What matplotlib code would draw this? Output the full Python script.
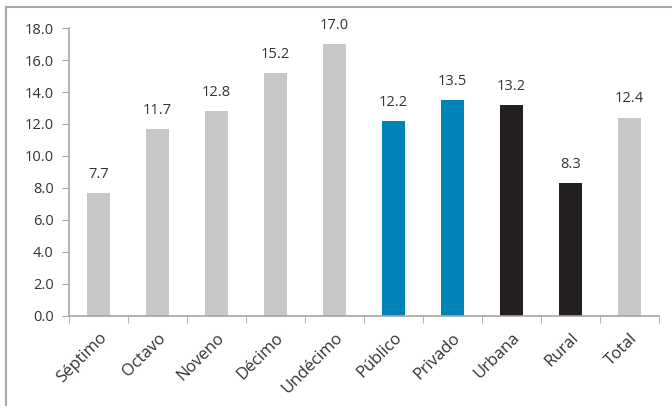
import matplotlib
matplotlib.use("Agg")
import matplotlib.pyplot as plt
from matplotlib.lines import Line2D

# data
categories = ["Séptimo", "Octavo", "Noveno", "Décimo", "Undécimo",
              "Público", "Privado", "Urbana", "Rural", "Total"]
values = [7.7, 11.7, 12.8, 15.2, 17.0, 12.2, 13.5, 13.2, 8.3, 12.4]
groups = ["grado"] * 5 + ["sector"] * 2 + ["zona"] * 2 + ["grado"]

GROUP_COLORS = {"grado": "#c6c7c9", "sector": "#0083b7", "zona": "#231f20"}
AXIS_COLOR = "#a6a6a6"
TEXT_COLOR = "#333333"

plt.rcParams["font.family"] = ["Open Sans", "DejaVu Sans"]

fig = plt.figure(figsize=(6.72, 4.07), dpi=100)
ax = fig.add_axes((0.1027, 0.2236, 0.878, 0.7076))

xs = list(range(len(categories)))
colors = [GROUP_COLORS[g] for g in groups]
ax.bar(xs, values, width=0.4, color=colors, zorder=2)

for x, v in zip(xs, values):
    ax.text(x, v + 0.7, "{:.1f}".format(v), ha="center", va="bottom",
            fontsize=10.5, color=TEXT_COLOR)

ax.set_xlim(-0.5, len(categories) - 0.5)
ax.set_ylim(0, 18)
ax.set_yticks([i * 2.0 for i in range(10)])
ax.set_yticklabels(["{:.1f}".format(i * 2.0) for i in range(10)],
                   fontsize=10.5, color=TEXT_COLOR)

# category labels at bar centres, tick marks between categories
ax.set_xticks(xs)
ax.set_xticklabels(categories, rotation=45, ha="right", rotation_mode="anchor",
                   fontsize=12, color=TEXT_COLOR)
ax.tick_params(axis="x", length=0, pad=10)
ax.set_xticks([x - 0.5 for x in xs] + [len(categories) - 0.5], minor=True)
ax.tick_params(axis="x", which="minor", length=5, color=AXIS_COLOR, direction="out")
ax.tick_params(axis="y", length=5, color=AXIS_COLOR, direction="out", pad=6)

for side in ("top", "right"):
    ax.spines[side].set_visible(False)
for side in ("left", "bottom"):
    ax.spines[side].set_color(AXIS_COLOR)
    ax.spines[side].set_linewidth(1.2)

# outer frame (only top and left edges visible in the picture)
W, H = 672, 407
fig.add_artist(Line2D([6 / W, 1.0], [1 - 7 / H, 1 - 7 / H],
                      transform=fig.transFigure, color=AXIS_COLOR, lw=1.5))
fig.add_artist(Line2D([6 / W, 6 / W], [1 - 7 / H, 1 - 405 / H],
                      transform=fig.transFigure, color=AXIS_COLOR, lw=1.5))

fig.savefig("out.png", dpi=100)
